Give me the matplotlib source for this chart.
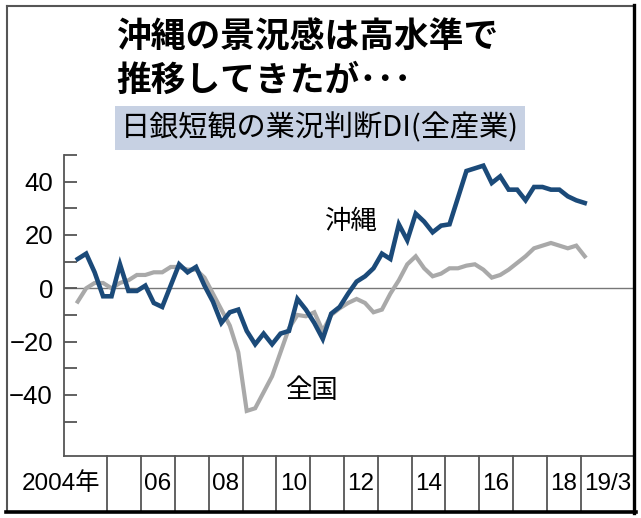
import numpy as np
import matplotlib
matplotlib.use('Agg')
import matplotlib.pyplot as plt
from matplotlib.lines import Line2D
from matplotlib.patches import Rectangle
import matplotlib.transforms as mtransforms

# 日銀短観 業況判断DI (全産業), quarterly 2004/3 - 2019/3
okinawa = [11, 13, 6, -3,   -3, 9, -1, -1,   1, -5.5, -7, 1,   9, 6, 8, 1,
           -5, -13, -9, -8,   -16, -21, -17, -21,   -17, -16, -4, -8,
           -13, -19, -9.5, -7,   -2, 2.5, 4.5, 7.5,   13, 11, 24, 18,
           28, 25, 21, 23.5,   24, 34, 44, 45,   46, 39.5, 42, 37,
           37, 33, 38, 38,   37, 37, 34.5, 33,   32]
zenkoku = [-5, 0, 2, 2,   0, 2, 3, 5,   5, 6, 6, 8,   8, 7, 7, 4,
           -2, -8, -14, -24,   -46, -45, -39, -33,   -24, -15, -10, -10.5,
           -9, -16, -10, -7.5,   -5.5, -4, -5.5, -9,   -8, -2, 3, 9,
           12, 7.5, 4.5, 5.5,   7.5, 7.5, 8.5, 9,   7, 4, 5, 7,
           9.5, 12, 15, 16,   17, 16, 15, 16,   12]
start_year = 2004
year_labels = {2004: '2004年', 2006: '06', 2008: '08', 2010: '10', 2012: '12',
               2014: '14', 2016: '16', 2018: '18', 2019: '19/3'}

NAVY = '#1b4a79'
GREY = '#a9a9a9'
cjk = ['Noto Sans CJK JP', 'DejaVu Sans']
latin = ['Liberation Sans', 'Noto Sans CJK JP']

W, H = 641, 518
fig = plt.figure(figsize=(W / 100, H / 100), dpi=100)

def fx(px):
    return px / W

def fy(py):
    return 1 - py / H

# main plot area
left, right, top, bottom = 64, 634.3, 155, 455.7
ax = fig.add_axes([fx(left), fy(bottom), fx(right - left), (bottom - top) / H])

n = len(okinawa)
x = start_year + (np.arange(n) + 0.5) / 4.0

ax.axhline(0, color='#777777', lw=1.0, zorder=1)
ax.plot(x, zenkoku, color=GREY, lw=3.0, solid_joinstyle='miter', zorder=2)
ax.plot(x, okinawa, color=NAVY, lw=3.3, solid_joinstyle='miter', zorder=3)

ax.set_xlim(2005 - (107.3 - left) / 33.8, 2005 + (right - 107.3) / 33.8)
ax.set_ylim(-62.8, 50)

for s in ['top', 'right']:
    ax.spines[s].set_visible(False)
ax.spines['left'].set_color('#555555')
ax.spines['left'].set_linewidth(1.3)
ax.spines['bottom'].set_color('#555555')
ax.spines['bottom'].set_linewidth(1.3)

ax.set_xticks([])
ax.set_yticks([-40, -20, 0, 20, 40])
ax.set_yticks(np.arange(-50, 51, 10), minor=True)
ax.tick_params(axis='y', which='both', direction='in', length=9.5, width=1.3,
               color='#555555', pad=8)
ax.tick_params(axis='y', labelsize=18.5)
for lab in ax.get_yticklabels():
    lab.set_family(latin)

ax.text(2012.22, 24.9, '沖縄', family=cjk, fontsize=19, ha='center', va='center')
ax.text(2011.03, -38.5, '全国', family=cjk, fontsize=19, ha='center', va='center')

# year band under the plot
band = -(511.7 - bottom) / (bottom - top)
trans = mtransforms.blended_transform_factory(ax.transData, ax.transAxes)
for yr in range(2005, 2020):
    ax.add_line(Line2D([yr, yr], [0, band], transform=trans, color='#555555',
                       lw=1.3, clip_on=False))
for yr, lab in year_labels.items():
    if yr == 2004:
        xp, ha = 2005 - 0.2, 'right'
    elif yr == 2019:
        xp, ha = 2019.8, 'center'
    else:
        xp, ha = yr + 0.5, 'center'
    ax.text(xp, band / 2, lab, transform=trans, ha=ha, va='center',
            fontsize=17.5, family=latin, clip_on=False)

# outer frame
fig.add_artist(Line2D([fx(7), fx(634)], [fy(6), fy(6)], color='#555555', lw=1.5))
fig.add_artist(Line2D([fx(7), fx(7)], [fy(6), fy(511.7)], color='#555555', lw=1.5))
fig.add_artist(Line2D([fx(634.3), fx(634.3)], [fy(5), fy(512.5)], color='black', lw=2.4))
fig.add_artist(Line2D([fx(6), fx(635.5)], [fy(511.7), fy(511.7)], color='black', lw=2.6))

# title
fig.text(fx(116), fy(37), '沖縄の景況感は高水準で', family=cjk, fontsize=25,
         fontweight='bold', ha='left', va='center')
fig.text(fx(116), fy(80), '推移してきたが･･･', family=cjk, fontsize=25,
         fontweight='bold', ha='left', va='center')

# subtitle box
fig.add_artist(Rectangle((fx(115), fy(150)), fx(525 - 115), (150 - 106) / H,
                         facecolor='#c7d1e3', edgecolor='none'))
fig.text(fx(320), fy(128), '日銀短観の業況判断DI(全産業)', family=cjk, fontsize=21,
         ha='center', va='center')

fig.savefig('out.png', dpi=100)
